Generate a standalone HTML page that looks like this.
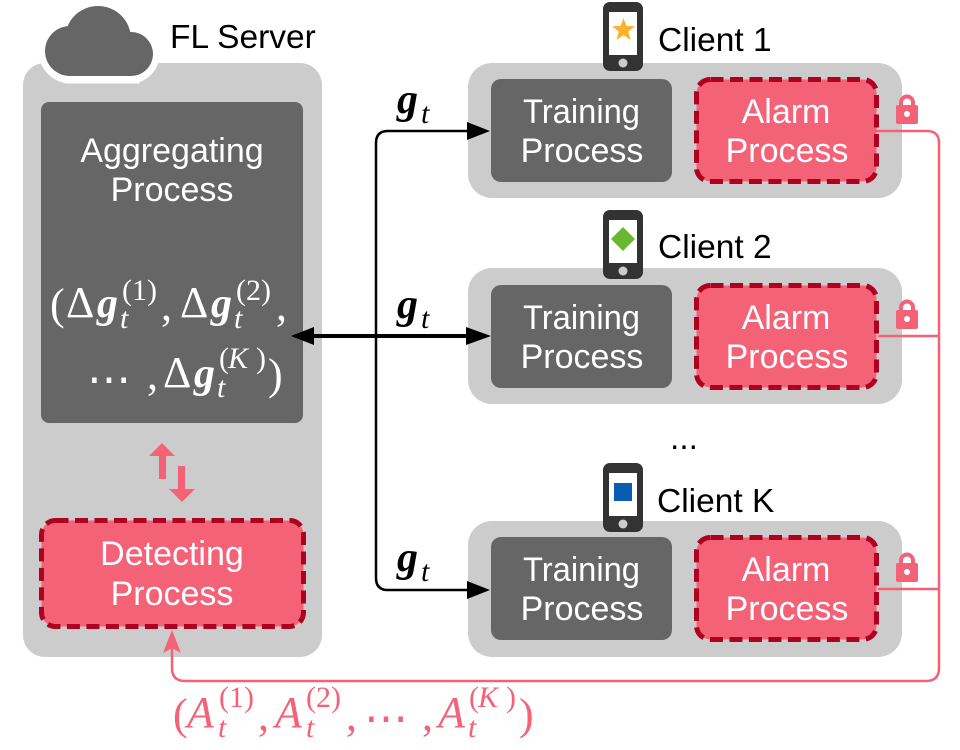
<!DOCTYPE html>
<html>
<head>
<meta charset="utf-8">
<style>
html,body{margin:0;padding:0;background:#fff}
svg{display:block}
.s{font-family:"Liberation Sans",sans-serif;font-size:34px;fill:#fff;text-anchor:middle}
.b{font-family:"Liberation Sans",sans-serif;font-size:33.500px;fill:#000}
.m{font-family:"Liberation Serif",serif;font-size:44px;fill:#fff}
.g{font-family:"Liberation Serif",serif;font-size:42px;font-weight:bold;font-style:italic}
.t{font-family:"Liberation Serif",serif;font-size:30px;font-style:italic}
.u{font-family:"Liberation Serif",serif;font-size:30px}
.w{fill:#fff}
.k{fill:#000}
.p{fill:#f46278}
.a{font-family:"Liberation Serif",serif;font-size:44px;font-style:italic;fill:#f46278}
.pm{font-family:"Liberation Serif",serif;font-size:44px;fill:#f46278}
</style>
</head>
<body>
<svg width="960" height="750" viewBox="0 0 960 750" xmlns="http://www.w3.org/2000/svg">
<defs>
<g id="lock">
<path d="M901 106v-3.500a6 6 0 0 1 12 0v3.500" fill="none" stroke="#f46278" stroke-width="4"/>
<rect x="896" y="105" width="22" height="19" rx="2" fill="#f46278"/>
<circle cx="907" cy="114" r="3" fill="#fff"/>
</g>
<g id="phone">
<rect x="603" y="2" width="40" height="69" rx="7" fill="#333"/>
<rect x="609" y="12" width="28" height="43" fill="#fff"/>
<circle cx="623" cy="63" r="4.500" fill="#ccc"/>
</g>
</defs>

<!-- Server -->
<rect x="23" y="63" width="299" height="594" rx="22" fill="#ccc"/>
<g fill="#fff" stroke="#fff" stroke-width="15">
<circle cx="98" cy="40" r="33"/><circle cx="71" cy="51" r="25"/><circle cx="130" cy="54" r="22"/><rect x="72" y="50" width="60" height="26"/>
</g>
<g fill="#666">
<circle cx="98" cy="39" r="33"/><circle cx="70" cy="51" r="25"/><circle cx="131" cy="54" r="22"/><rect x="70" y="50" width="62" height="26"/>
</g>
<text class="b" x="170" y="48">FL Server</text>
<rect x="41" y="102" width="262" height="321" rx="8" fill="#666"/>
<text class="s" x="172" y="162">Aggregating</text>
<text class="s" x="172" y="201">Process</text>

<!-- Server math -->
<text class="m" x="50" y="319">(</text>
<text class="m" x="66" y="317">Δ</text>
<text class="g w" x="97" y="317">g</text>
<text class="t w" x="120" y="328">t</text>
<text class="u w" x="122" y="300">(1)</text>
<text class="m" x="161" y="320">,</text>
<text class="m" x="180" y="317">Δ</text>
<text class="g w" x="211" y="317">g</text>
<text class="t w" x="234" y="328">t</text>
<text class="u w" x="236" y="300">(2)</text>
<text class="m" x="276" y="320">,</text>
<text class="m" x="87" y="394" font-size="42">⋯</text>
<text class="m" x="147" y="389">,</text>
<text class="m" x="163" y="387">Δ</text>
<text class="g w" x="194" y="387">g</text>
<text class="t w" x="217" y="397">t</text>
<text class="u w" x="219" y="368">(</text>
<text class="t w" x="228" y="368">K</text>
<text class="u w" x="256" y="368">)</text>
<text class="m" x="268" y="389">)</text>

<!-- Up/down arrows -->
<path d="M162 443L175 456H166V479H159V456H149Z" class="p"/>
<path d="M178 466H185V489H195L182 502L169 489H178Z" class="p"/>

<!-- Detecting -->
<rect x="41.500" y="520.500" width="262" height="106" rx="14" fill="#f46278" stroke="#ae0020" stroke-width="5" stroke-dasharray="13 6.500"/>
<text class="s" x="172" y="565">Detecting</text>
<text class="s" x="172" y="605">Process</text>

<!-- Client panels -->
<rect x="468" y="63" width="434" height="135" rx="24" fill="#ccc"/>
<rect x="468" y="268" width="434" height="136" rx="24" fill="#ccc"/>
<rect x="468" y="521" width="434" height="136" rx="24" fill="#ccc"/>

<!-- Training -->
<rect x="491" y="79" width="181" height="103" rx="10" fill="#666"/>
<rect x="491" y="285" width="181" height="103" rx="10" fill="#666"/>
<rect x="491" y="537" width="181" height="103" rx="10" fill="#666"/>
<text class="s" x="581.500" y="123" textLength="117" lengthAdjust="spacingAndGlyphs">Training</text>
<text class="s" x="582" y="162">Process</text>
<text class="s" x="581.500" y="329" textLength="117" lengthAdjust="spacingAndGlyphs">Training</text>
<text class="s" x="582" y="368">Process</text>
<text class="s" x="581.500" y="581" textLength="117" lengthAdjust="spacingAndGlyphs">Training</text>
<text class="s" x="582" y="620">Process</text>

<!-- Alarm -->
<rect x="696.500" y="79.500" width="180" height="102" rx="14" fill="#f46278" stroke="#ae0020" stroke-width="5" stroke-dasharray="13 6.500"/>
<rect x="696.500" y="285.500" width="180" height="102" rx="14" fill="#f46278" stroke="#ae0020" stroke-width="5" stroke-dasharray="13 6.500"/>
<rect x="696.500" y="537.500" width="180" height="102" rx="14" fill="#f46278" stroke="#ae0020" stroke-width="5" stroke-dasharray="13 6.500"/>
<text class="s" x="786" y="123">Alarm</text>
<text class="s" x="787" y="162">Process</text>
<text class="s" x="786" y="329">Alarm</text>
<text class="s" x="787" y="368">Process</text>
<text class="s" x="786" y="581">Alarm</text>
<text class="s" x="787" y="620">Process</text>

<!-- Phones -->
<use href="#phone"/>
<use href="#phone" y="208"/>
<use href="#phone" y="461"/>
<polygon points="623.500,18 626.400,26 635,26.300 628.200,31.600 630.600,40 623.500,35.100 616.400,40 618.800,31.600 612,26.300 620.600,26" fill="#fdb12d"/>
<polygon points="623,227 635,239 623,251 611,239" fill="#6ab82f"/>
<rect x="614" y="483" width="18" height="18" fill="#0a5cb0"/>
<text class="b" x="658" y="51">Client 1</text>
<text class="b" x="658" y="258">Client 2</text>
<text class="b" x="657" y="512">Client K</text>
<text class="b" x="684" y="449" text-anchor="middle">...</text>

<!-- Locks -->
<use href="#lock"/>
<use href="#lock" y="205"/>
<use href="#lock" y="458"/>

<!-- Black connectors -->
<path d="M470 131H388Q376 131 376 143V578Q376 590 388 590H470" fill="none" stroke="#000" stroke-width="2.500"/>
<path d="M310 336H470" fill="none" stroke="#000" stroke-width="4"/>
<path d="M490 131L467 122V140Z M491 336L466 327V345Z M490 590L467 581V599Z M291 336L314 327V345Z" fill="#000"/>

<!-- g_t labels -->
<text class="g k" x="397" y="113">g</text><text class="t k" x="421" y="123">t</text>
<text class="g k" x="397" y="318">g</text><text class="t k" x="421" y="328">t</text>
<text class="g k" x="397" y="571">g</text><text class="t k" x="421" y="581">t</text>

<!-- Pink connectors -->
<path d="M876 131H927Q939 131 939 143V668Q939 681 926 681H185Q172 681 172 668V640" fill="none" stroke="#f46278" stroke-width="2.500"/>
<path d="M878 336H939M878 589H939" fill="none" stroke="#f46278" stroke-width="2.500"/>
<path d="M172 630L181 653L172 648L163 653Z" fill="#f46278"/>

<!-- Pink math -->
<text class="pm" x="173" y="729">(</text>
<text class="a" x="187" y="727">A</text>
<text class="t p" x="218" y="737">t</text>
<text class="u p" x="219" y="707">(1)</text>
<text class="pm" x="258" y="730">,</text>
<text class="a" x="275" y="727">A</text>
<text class="t p" x="306" y="737">t</text>
<text class="u p" x="306" y="707">(2)</text>
<text class="pm" x="346" y="730">,</text>
<text class="pm" x="364" y="733" font-size="42">⋯</text>
<text class="pm" x="422" y="730">,</text>
<text class="a" x="438" y="727">A</text>
<text class="t p" x="468" y="737">t</text>
<text class="u p" x="469" y="707">(</text>
<text class="t p" x="478" y="707">K</text>
<text class="u p" x="506" y="707">)</text>
<text class="pm" x="519" y="729">)</text>
</svg>
</body>
</html>
